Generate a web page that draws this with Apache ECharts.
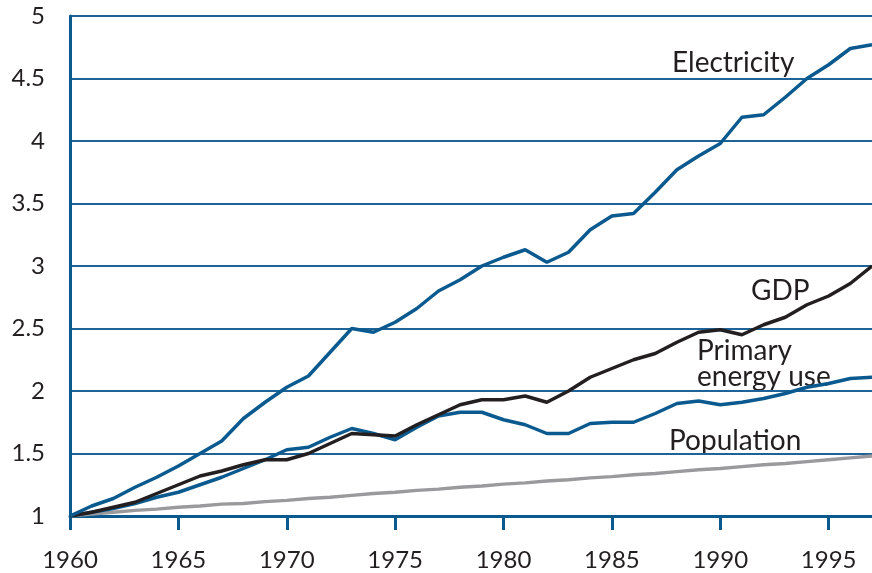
<!DOCTYPE html>
<html>
<head>
<meta charset="utf-8">
<script src="https://cdn.jsdelivr.net/npm/echarts@6/dist/echarts.min.js"></script>
<style>
  html, body { margin: 0; padding: 0; background: #fff; }
  #chart { width: 872px; height: 573px; }
</style>
</head>
<body>
<div id="chart"></div>
<script>
// index values, 1960 = 1
const years = [];
for (let y = 1960; y <= 1997; y++) years.push(y);

const electricity = [1.00, 1.08, 1.14, 1.23, 1.31, 1.40, 1.50, 1.60, 1.78, 1.91,
  2.03, 2.12, 2.31, 2.50, 2.47, 2.55, 2.66, 2.80, 2.89, 3.00,
  3.07, 3.13, 3.03, 3.11, 3.29, 3.40, 3.42, 3.59, 3.77, 3.88,
  3.98, 4.19, 4.21, 4.35, 4.50, 4.61, 4.74, 4.77];

const gdp = [1.00, 1.03, 1.07, 1.11, 1.18, 1.25, 1.32, 1.36, 1.41, 1.45,
  1.45, 1.50, 1.58, 1.66, 1.65, 1.64, 1.73, 1.81, 1.89, 1.93,
  1.93, 1.96, 1.91, 2.00, 2.11, 2.18, 2.25, 2.30, 2.39, 2.47,
  2.49, 2.45, 2.53, 2.59, 2.69, 2.76, 2.86, 3.00];

const primaryEnergy = [1.00, 1.03, 1.06, 1.10, 1.15, 1.19, 1.25, 1.31, 1.38, 1.45,
  1.53, 1.55, 1.63, 1.70, 1.66, 1.61, 1.71, 1.80, 1.83, 1.83,
  1.77, 1.73, 1.66, 1.66, 1.74, 1.75, 1.75, 1.82, 1.90, 1.92,
  1.89, 1.91, 1.94, 1.98, 2.03, 2.06, 2.10, 2.11];

const population = [1.00, 1.015, 1.03, 1.045, 1.055, 1.07, 1.08, 1.095, 1.10, 1.115,
  1.125, 1.14, 1.15, 1.165, 1.18, 1.19, 1.205, 1.215, 1.23, 1.24,
  1.255, 1.265, 1.28, 1.29, 1.305, 1.315, 1.33, 1.34, 1.355, 1.37,
  1.38, 1.395, 1.41, 1.42, 1.435, 1.45, 1.465, 1.48];

const xTicks = [1960, 1965, 1970, 1975, 1980, 1985, 1990, 1995];

const BLUE = '#0b5a8f';
const INK = '#231f20';

function pairs(vals) {
  return years.map((y, i) => [y, vals[i]]);
}

function line(name, vals, color, z) {
  return {
    name: name,
    type: 'line',
    data: pairs(vals),
    symbol: 'none',
    smooth: false,
    z: z,
    lineStyle: { color: color, width: 3.5 },
    animation: false
  };
}

const chart = echarts.init(document.getElementById('chart'));
chart.setOption({
  backgroundColor: '#fff',
  animation: false,
  grid: { left: 70, right: 0, top: 16, bottom: 57 },
  xAxis: {
    type: 'value',
    min: 1960,
    max: 1997,
    interval: 5,
    axisLine: { show: true, lineStyle: { color: BLUE, width: 3 } },
    axisTick: { show: true, inside: false, length: 14, customValues: xTicks, lineStyle: { color: BLUE, width: 3 } },
    axisLabel: {
      customValues: xTicks,
      formatter: v => String(v),
      margin: 32,
      color: INK,
      fontFamily: 'Lato',
      fontSize: 24
    },
    splitLine: { show: false }
  },
  yAxis: {
    type: 'value',
    min: 1,
    max: 5,
    interval: 0.5,
    axisLine: { show: true, lineStyle: { color: BLUE, width: 3 } },
    axisTick: { show: false },
    axisLabel: {
      margin: 25,
      color: INK,
      fontFamily: 'Lato',
      fontSize: 24
    },
    splitLine: { show: true, lineStyle: { color: '#1f6396', width: 2 } }
  },
  series: [
    line('Population', population, '#9a9a9c', 2),
    line('Primary energy use', primaryEnergy, BLUE, 3),
    line('GDP', gdp, INK, 4),
    line('Electricity', electricity, BLUE, 5)
  ],
  graphic: [
    { type: 'text', left: 672, top: 49, style: { text: 'Electricity', fill: INK, font: '28px Lato' } },
    { type: 'text', left: 751, top: 277, style: { text: 'GDP', fill: INK, font: '28px Lato' } },
    { type: 'text', left: 697, top: 337, style: { text: 'Primary\nenergy use', fill: INK, font: '28px Lato', lineHeight: 26 } },
    { type: 'text', left: 669, top: 427, style: { text: 'Population', fill: INK, font: '28px Lato' } }
  ]
});
</script>
</body>
</html>
